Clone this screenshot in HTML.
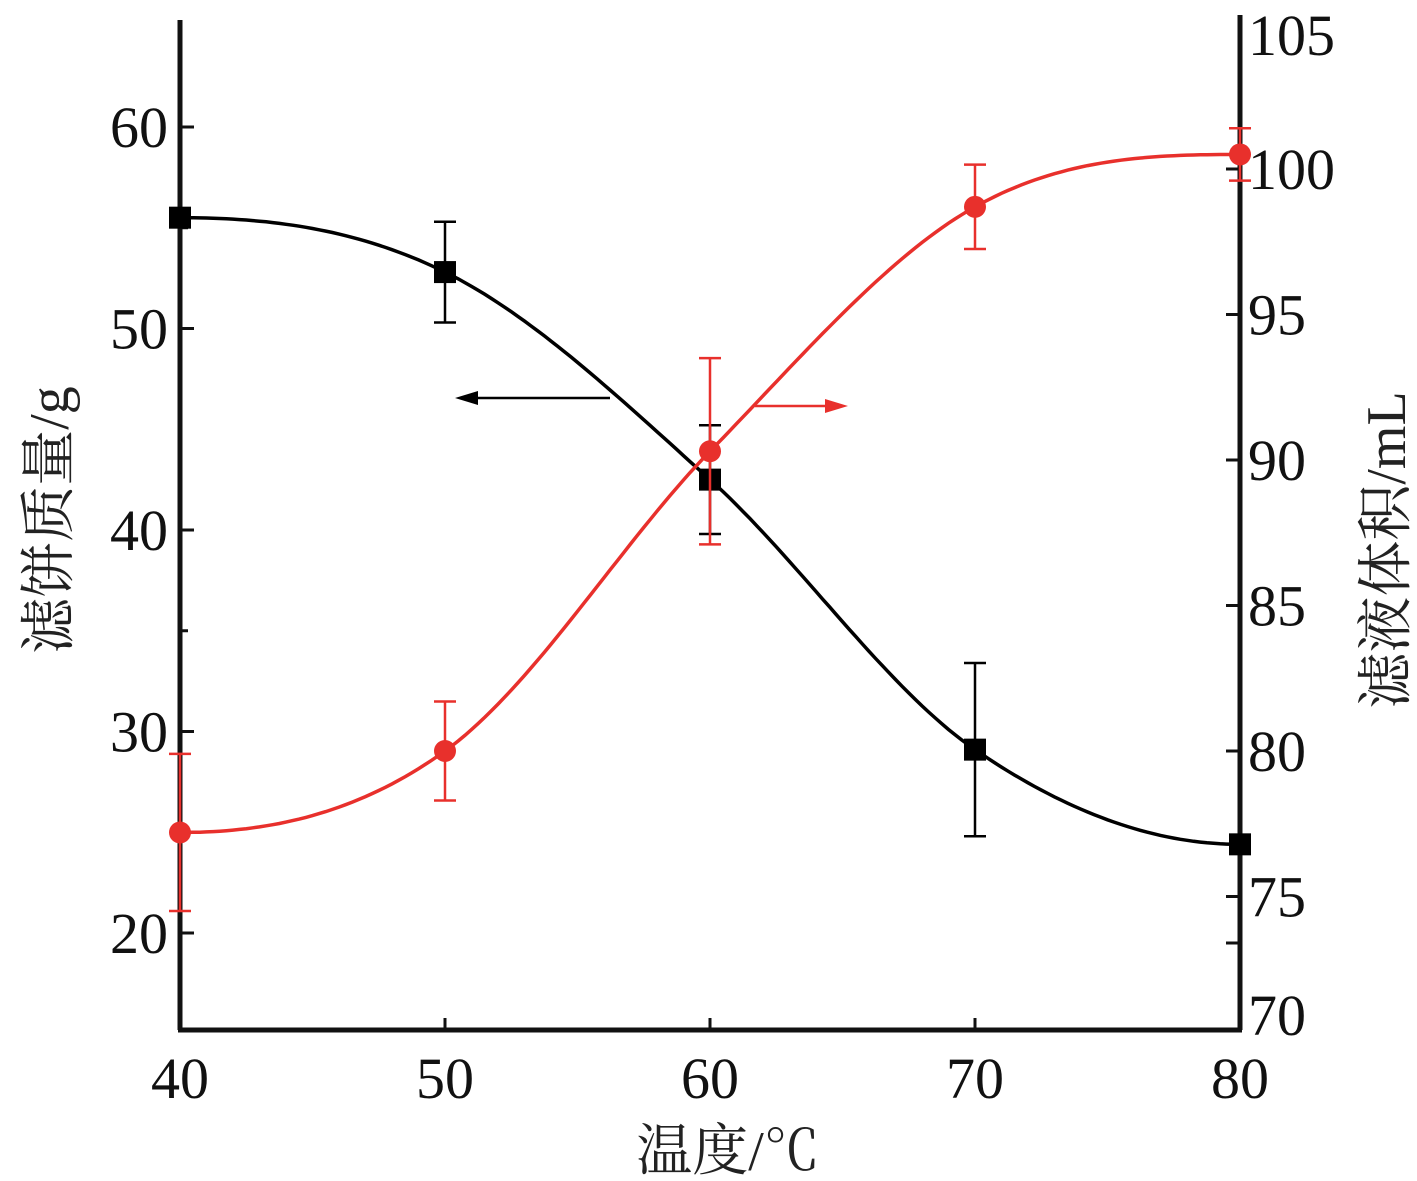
<!DOCTYPE html>
<html><head><meta charset="utf-8"><style>
html,body{margin:0;padding:0;background:#fff;}
svg{display:block;}
text{font-family:"Liberation Serif","Noto Serif CJK SC",serif;}
</style></head><body>
<svg id="chart" width="1417" height="1181" viewBox="0 0 1417 1181"></svg>
<script>
const temps=[40,50,60,70,80];
const cakeMass=[55.5,52.8,42.5,29.1,24.4];
const cakeErr=[0,2.5,2.7,4.3,0];
const filtrateVol=[77.2,80.0,90.3,98.7,100.5];
const filtrateErr=[2.7,1.7,3.2,1.45,0.9];
const xTicks=[40,50,60,70,80];
const leftTicks=[20,30,40,50,60];
const rightTicks=[70,75,80,85,90,95,100,105];

const NS="http://www.w3.org/2000/svg";
const svg=document.getElementById('chart');
const X0=180,X1=1240,YB=1030,YT=20;
const xs=t=>X0+(t-40)*(X1-X0)/40;
const yl=v=>127+(60-v)*20.15;
const yr=v=>169+(100-v)*29.1;
function mk(tag,attrs,parent){const e=document.createElementNS(NS,tag);for(const k in attrs)e.setAttribute(k,attrs[k]);(parent||svg).appendChild(e);return e;}

function hermite(xv,yv){
  const n=xv.length,m=[];
  for(let i=0;i<n;i++){
    if(i===0||i===n-1)m.push(0);
    else m.push((yv[i+1]-yv[i-1])/(xv[i+1]-xv[i-1]));
  }
  return t=>{
    let j=0;while(j<n-2&&t>xv[j+1])j++;
    const h=xv[j+1]-xv[j],s=(t-xv[j])/h,s2=s*s,s3=s2*s;
    return (2*s3-3*s2+1)*yv[j]+(s3-2*s2+s)*h*m[j]+(-2*s3+3*s2)*yv[j+1]+(s3-s2)*h*m[j+1];
  };
}

let e;
e=mk('line',{x1:X0,y1:YT,x2:X0,y2:YB,stroke:'#111','stroke-width':5});

e=mk('line',{x1:X1,y1:YT-5,x2:X1,y2:YB,stroke:'#111','stroke-width':5});

e=mk('line',{x1:X0-2,y1:YB,x2:X1+2,y2:YB,stroke:'#111','stroke-width':5});


xTicks.forEach(t=>{
  if(t>40&&t<80){e=mk('line',{x1:xs(t),y1:YB,x2:xs(t),y2:YB-12,stroke:'#111','stroke-width':3});
  }
  e=mk('text',{x:xs(t),y:1098,'font-size':58,'text-anchor':'middle',fill:'#111'});e.textContent=t;
  
});
leftTicks.forEach(v=>{
  e=mk('line',{x1:X0,y1:yl(v),x2:X0+14,y2:yl(v),stroke:'#111','stroke-width':3});
  
  e=mk('text',{x:168,y:yl(v)+20,'font-size':58,'text-anchor':'end',fill:'#111'});e.textContent=v;
  
});
[35,55].forEach(v=>{e=mk('line',{x1:X0,y1:yl(v),x2:X0+8,y2:yl(v),stroke:'#111','stroke-width':3});
});
rightTicks.forEach(v=>{
  if(v<105&&v>70){e=mk('line',{x1:X1,y1:yr(v),x2:X1-14,y2:yr(v),stroke:'#111','stroke-width':3});
  }
  const ty=v===105?35:(v===70?1015:yr(v));
  e=mk('text',{x:1248,y:ty+20,'font-size':58,fill:'#111'});e.textContent=v;
  
});
e=mk('line',{x1:X1,y1:943,x2:X1-14,y2:943,stroke:'#111','stroke-width':3});


e=mk('text',{x:0,y:0,'font-size':56,'text-anchor':'middle',fill:'#222',transform:'translate(68,520) rotate(-90)'});
e.textContent='滤饼质量/g';
e=mk('text',{x:0,y:0,'font-size':56,'text-anchor':'middle',fill:'#222',transform:'translate(1405,550) rotate(-90)'});
e.textContent='滤液体积/mL';
e=mk('text',{x:728,y:1170,'font-size':56,'text-anchor':'middle',fill:'#222'});
e.textContent='温度/℃';

function series(vals,errs,ymap,color,marker,name){
  const f=hermite(temps,vals);let d='';
  for(let t=40;t<=80.001;t+=0.25)d+=(d?'L':'M')+xs(t).toFixed(1)+','+ymap(f(t)).toFixed(1);
  e=mk('path',{d:d,fill:'none',stroke:color,'stroke-width':3.5});
  
  temps.forEach((t,i)=>{
    const x=xs(t);
    if(errs[i]>0){const y1=ymap(vals[i]+errs[i]),y2=ymap(vals[i]-errs[i]);
      e=mk('path',{d:`M${x},${y1}V${y2}M${x-11},${y1}H${x+11}M${x-11},${y2}H${x+11}`,stroke:color,'stroke-width':2.5,fill:'none'});
      }
    const y=ymap(vals[i]);
    if(marker==='square')e=mk('rect',{x:x-11,y:y-11,width:22,height:22,fill:color});
    else e=mk('circle',{cx:x,cy:y,r:11,fill:color});
    
  });
}
series(cakeMass,cakeErr,yl,'#000','square','cake-mass');
series(filtrateVol,filtrateErr,yr,'#e8302c','circle','filtrate-volume');

e=mk('path',{d:'M610,398H470',stroke:'#000','stroke-width':2.5});

e=mk('path',{d:'M455,398L478,391L478,405Z',fill:'#000'});

e=mk('path',{d:'M755,406H832',stroke:'#e8302c','stroke-width':2.5});

e=mk('path',{d:'M848,406L825,399L825,413Z',fill:'#e8302c'});

</script>
</body></html>
